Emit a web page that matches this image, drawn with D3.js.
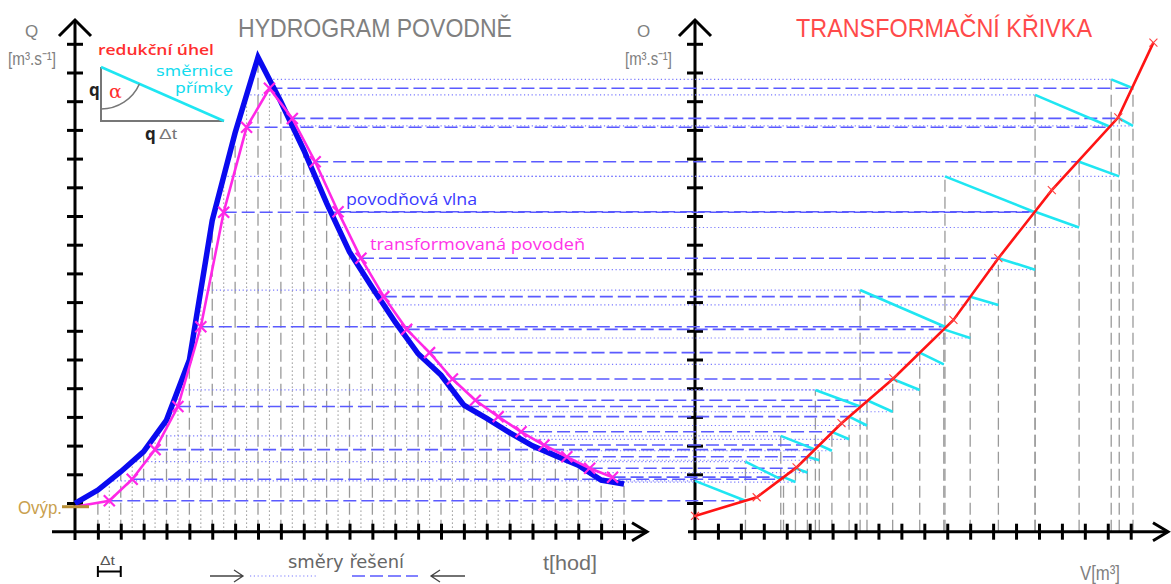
<!DOCTYPE html>
<html><head><meta charset="utf-8">
<script src="https://cdn.jsdelivr.net/npm/d3@7"></script>
<style>body{margin:0;background:#fff}svg{display:block}</style>
</head><body>
<svg id="c" width="1171" height="584"></svg>
<script>
// ---------- data (in axis-tick units) ----------
const hours = d3.range(0, 25);                 // t ticks 0..24 [hod]
const inflow = [0.99,1.45,2.09,2.79,3.89,5.98,10.85,13.9,16.53,14.98,13.3,11.45,9.75,8.5,7.3,6.2,5.46,4.41,3.95,3.45,2.99,2.65,2.32,1.8,1.66];
const stepMid = [1.5,2.5,3.5,4.5,5.5,6.5,7.5,8.5,9.5,10.5,11.5,12.5,13.5,14.5,15.5,16.5,17.5,18.5,19.5,20.5,21.5,22.5,23.5];
const meanInflow = [1.77,2.44,3.34,4.94,8.42,12.38,15.22,15.76,14.14,12.38,10.6,9.13,7.9,6.75,5.83,4.94,4.18,3.7,3.22,2.82,2.49,2.06,1.73];
const outflow = [1.08,1.83,2.86,4.36,7.14,11.13,14.09,15.45,14.4,12.89,11.15,9.53,8.19,7.05,6.24,5.32,4.58,4.01,3.48,3.02,2.61,2.21,1.9];
const outflowV = [2.2,3.74,5.25,7.2,10.9,14.83,18.15,19.1,18.5,16.75,14.83,13.23,12.0,10.85,9.8,8.62,7.5,6.72,5.97,5.42,4.9,4.38,3.86];
const outflowStart = 0.87;
const curveV = [0,2.69,4.43,6.39,8.65,11.27,13.23,15.56,18.46,19.99];
const curveO = [0.55,1.2,2.24,3.78,5.34,7.38,9.53,11.9,14.44,17.04];
const qTicks = d3.range(1, 18);
const tTicks = d3.range(1, 25);
const vTicks = d3.range(1, 20);

// ---------- scales ----------
const svg = d3.select("#c");
const xL = d3.scaleLinear([0, 24], [75, 624]);
const yQ = d3.scaleLinear([0, 17], [531.7, 43.8]);
const xR = d3.scaleLinear([0, 19], [695, 1130.7]);

const GRAY = "#9a9a9a", DOT = "#7a7aff", DASH = "#5a5aff", CYAN = "#1fe6f2";

// ---------- construction verticals ----------
const gv = svg.append("g");
gv.selectAll(".lv").data(tTicks).join("line")
  .attr("x1", t => xL(t)).attr("x2", t => xL(t))
  .attr("y1", yQ(0)).attr("y2", t => yQ(inflow[t]))
  .attr("stroke", GRAY).attr("stroke-width", 1.3).attr("stroke-dasharray", "12,5");
gv.selectAll(".ld").data(stepMid).join("line")
  .attr("x1", t => xL(t)).attr("x2", t => xL(t))
  .attr("y1", yQ(0)).attr("y2", (t, i) => yQ(meanInflow[i]))
  .attr("stroke", "#8a8a8a").attr("stroke-width", 1.1).attr("stroke-dasharray", "1.2,2.8");
gv.selectAll(".rv").data(outflowV).join("line")
  .attr("x1", v => xR(v)).attr("x2", v => xR(v))
  .attr("y1", yQ(0))
  .attr("y2", (v, i) => yQ(Math.max(outflow[i], i + 1 < meanInflow.length ? meanInflow[i + 1] : 0)))
  .attr("stroke", GRAY).attr("stroke-width", 1.3).attr("stroke-dasharray", "12,5");

// ---------- axes ----------
function crossTicks(g) {
  g.select(".domain").remove();
  g.selectAll(".tick text").remove();
}
function yAxis(x0) {
  const g = svg.append("g").attr("transform", `translate(${x0},0)`)
    .call(d3.axisLeft(yQ).tickValues(qTicks).tickSize(8).tickFormat(""));
  crossTicks(g);
  g.selectAll(".tick line").attr("x1", 8).attr("x2", -8).attr("stroke", "#000").attr("stroke-width", 3);
  g.append("line").attr("x1", 0).attr("x2", 0).attr("y1", 20).attr("y2", 540).attr("stroke", "#000").attr("stroke-width", 3);
  g.append("path").attr("d", "M-16,36 L0,20 L16,36").attr("fill", "none").attr("stroke", "#000").attr("stroke-width", 3);
}
function xAxis(scale, vals, x1, x2) {
  const g = svg.append("g").attr("transform", `translate(0,${yQ(0)})`)
    .call(d3.axisBottom(scale).tickValues(vals).tickSize(8).tickFormat(""));
  crossTicks(g);
  g.selectAll(".tick line").attr("y1", -8).attr("y2", 8).attr("stroke", "#000").attr("stroke-width", 3);
  g.append("line").attr("x1", x1).attr("x2", x2).attr("y1", 0).attr("y2", 0).attr("stroke", "#000").attr("stroke-width", 3);
  g.append("path").attr("d", `M${x2 - 15},-9 L${x2},0 L${x2 - 15},9`).attr("fill", "none").attr("stroke", "#000").attr("stroke-width", 3);
}
yAxis(xL(0)); yAxis(xR(0));
xAxis(xL, tTicks, 52, 647);
xAxis(xR, vTicks, 688, 1168);

// ---------- horizontal construction lines ----------
const gh = svg.append("g");
gh.selectAll(".dh").data(meanInflow).join("line")
  .attr("x1", (q, i) => xL(stepMid[i])).attr("x2", (q, i) => xR(i === 0 ? 0 : outflowV[i - 1]))
  .attr("y1", q => yQ(q)).attr("y2", q => yQ(q))
  .attr("stroke", DOT).attr("stroke-width", 1.2).attr("stroke-dasharray", "1.2,2.6");
gh.selectAll(".oh").data(outflow).join("line")
  .attr("x1", (o, i) => xL(stepMid[i])).attr("x2", (o, i) => xR(outflowV[i]))
  .attr("y1", o => yQ(o)).attr("y2", o => yQ(o))
  .attr("stroke", DASH).attr("stroke-width", 1.6).attr("stroke-dasharray", "13,5");

// ---------- cyan slope lines ----------
svg.append("g").selectAll("line").data(outflow).join("line")
  .attr("x1", (o, i) => xR(i === 0 ? 0 : outflowV[i - 1])).attr("y1", (o, i) => yQ(meanInflow[i]))
  .attr("x2", (o, i) => xR(outflowV[i])).attr("y2", o => yQ(o))
  .attr("stroke", CYAN).attr("stroke-width", 2.6);

// ---------- curves ----------
const line = d3.line();
svg.append("path")
  .attr("d", line(hours.map(t => [xL(t), yQ(inflow[t])])))
  .attr("fill", "none").attr("stroke", "#0a0af0").attr("stroke-width", 5.5).attr("stroke-linejoin", "miter");
const magPts = [[xL(0), yQ(outflowStart)]].concat(stepMid.map((t, i) => [xL(t), yQ(outflow[i])]));
svg.append("path").attr("d", line(magPts))
  .attr("fill", "none").attr("stroke", "#ff28e6").attr("stroke-width", 2.6);
const cross = (g, pts, s, col, w) => g.selectAll("path").data(pts).join("path")
  .attr("d", p => `M${p[0] - s},${p[1] - s}L${p[0] + s},${p[1] + s}M${p[0] - s},${p[1] + s}L${p[0] + s},${p[1] - s}`)
  .attr("stroke", col).attr("stroke-width", w).attr("fill", "none");
cross(svg.append("g"), magPts.slice(1), 5.5, "#ff28e6", 2.2);

const redPts = curveV.map((v, i) => [xR(v), yQ(curveO[i])]);
svg.append("path").attr("d", line(redPts))
  .attr("fill", "none").attr("stroke", "#ff1414").attr("stroke-width", 2.6);
cross(svg.append("g"), redPts, 4, "#ff4040", 1.1);

// brown Ovýp line
svg.append("line").attr("x1", 62).attr("x2", 89).attr("y1", yQ(outflowStart)).attr("y2", yQ(outflowStart))
  .attr("stroke", "#b88f35").attr("stroke-width", 3);

// ---------- inset triangle ----------
const tri = svg.append("g");
tri.append("path").attr("d", "M101,67 L101,121 L224,121").attr("fill", "none").attr("stroke", "#777").attr("stroke-width", 2);
tri.append("line").attr("x1", 101).attr("y1", 67).attr("x2", 224).attr("y2", 121).attr("stroke", CYAN).attr("stroke-width", 2.6);
const ang = Math.atan2(54, 123);
tri.append("path")
  .attr("d", `M101,${67 + 42} A42,42 0 0 0 ${101 + 42 * Math.cos(ang)},${67 + 42 * Math.sin(ang)}`)
  .attr("fill", "none").attr("stroke", "#777").attr("stroke-width", 1.4);

// ---------- text ----------
function txt(s, x, y, o) {
  const t = svg.append("text").attr("x", x).attr("y", y).text(s)
    .attr("font-family", o.f || "Liberation Sans Narrow, Arial Narrow, sans-serif")
    .attr("font-size", o.size).attr("fill", o.fill || "#666")
    .attr("font-weight", o.w || "normal");
  if (o.len) t.attr("textLength", o.len).attr("lengthAdjust", "spacingAndGlyphs");
  if (o.anchor) t.attr("text-anchor", o.anchor);
  return t;
}
txt("HYDROGRAM  POVODNĚ", 238, 37, { size: 25, len: 274, fill: "#808080" });
txt("TRANSFORMAČNÍ  KŘIVKA", 796, 37, { size: 25, len: 296, fill: "#ff4a4a" });
txt("Q", 25, 37, { size: 17, fill: "#808080" });
txt("[m³.s⁻¹]", 8, 65, { size: 19, len: 48, fill: "#808080" });
txt("O", 637, 37, { size: 17, fill: "#808080" });
txt("[m³.s⁻¹]", 625, 65, { size: 19, len: 47, fill: "#808080" });
txt("t[hod]", 543, 570, { size: 20, len: 54, fill: "#707070" });
txt("V[m³]", 1080, 580, { size: 20, len: 40, fill: "#808080" });
txt("Ovýp.", 18, 514, { size: 19, len: 44, fill: "#c9a04d" });

const sans = "Open Sans, DejaVu Sans, sans-serif";
txt("redukční úhel", 98, 55, { f: sans, size: 15, w: 600, len: 116, fill: "#ff2e2e" });
txt("směrnice", 233, 76, { f: "DejaVu Sans, sans-serif", size: 14, len: 77, fill: "#12dbee", anchor: "end" });
txt("přímky", 233, 93, { f: "DejaVu Sans, sans-serif", size: 14, len: 58, fill: "#12dbee", anchor: "end" });
txt("α", 109, 98, { f: "DejaVu Serif, serif", size: 19, fill: "#ff2e2e" });
txt("q", 89, 96, { f: sans, size: 17, w: 700, fill: "#222" });
txt("q", 145, 140, { f: sans, size: 17, w: 700, fill: "#222" });
txt("Δt", 159, 139, { size: 14, len: 18, fill: "#777" });
txt("povodňová  vlna", 346, 205, { f: sans, size: 16, len: 131, fill: "#3a3aff" });
txt("transformovaná  povodeň", 370, 250, { f: sans, size: 16, len: 215, fill: "#ff33e8" });
txt("směry  řešení", 288, 568, { f: "DejaVu Sans, sans-serif", size: 17, len: 116, fill: "#666" });

// Δt dimension
txt("Δt", 100, 565, { size: 13, len: 15, fill: "#555" });
svg.append("path").attr("d", `M${xL(1)},571.5 L${xL(2)},571.5 M${xL(1)},566 L${xL(1)},577 M${xL(2)},566 L${xL(2)},577`)
  .attr("stroke", "#000").attr("stroke-width", 2).attr("fill", "none");

// direction legend
svg.append("path").attr("d", "M210,576 L243,576 M234,570 L243,576 L234,582").attr("stroke", "#444").attr("fill", "none").attr("stroke-width", 1.3);
svg.append("line").attr("x1", 250).attr("x2", 318).attr("y1", 576).attr("y2", 576).attr("stroke", DOT).attr("stroke-width", 1.2).attr("stroke-dasharray", "1.2,2.6");
svg.append("line").attr("x1", 352).attr("x2", 418).attr("y1", 576).attr("y2", 576).attr("stroke", DASH).attr("stroke-width", 1.6).attr("stroke-dasharray", "13,5");
svg.append("path").attr("d", "M465,576 L431,576 M440,570 L431,576 L440,582").attr("stroke", "#444").attr("fill", "none").attr("stroke-width", 1.3);
</script>
</body></html>
